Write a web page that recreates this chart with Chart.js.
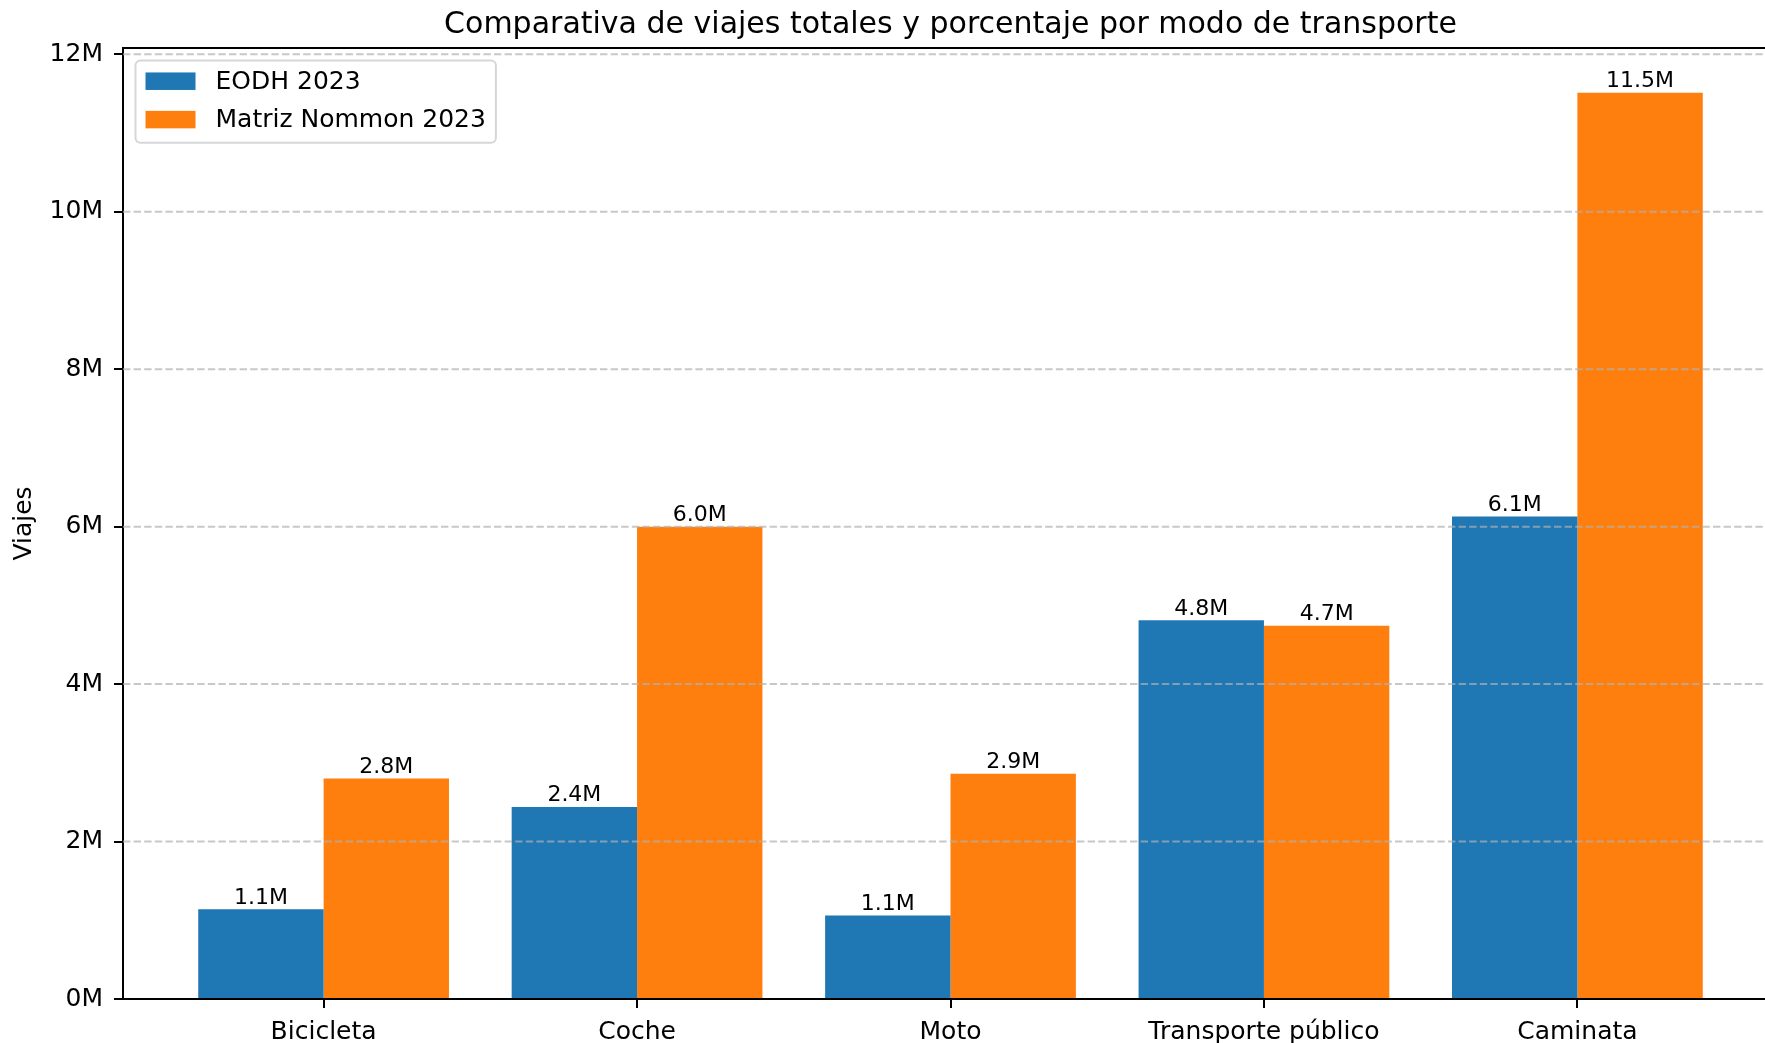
<!DOCTYPE html>
<html>
<head>
<meta charset="utf-8">
<script src="https://cdn.jsdelivr.net/npm/chart.js@4/dist/chart.umd.min.js"></script>
<style>
  html, body { margin: 0; padding: 0; overflow: hidden; background: #fff; }
  #wrap { width: 1901px; height: 1043px; }
</style>
</head>
<body>
<div id="wrap"><canvas id="c" width="1901" height="1043"></canvas></div>
<script>
// ---- Data ----
const categories = ['Bicicleta', 'Coche', 'Moto', 'Transporte público', 'Caminata'];
const eodh2023 = [1.14e6, 2.44e6, 1.06e6, 4.81e6, 6.13e6];
const nommon2023 = [2.80e6, 6.00e6, 2.86e6, 4.74e6, 11.51e6];
const seriesLabels = ['EODH 2023', 'Matriz Nommon 2023'];
const yTickValues = [0, 2e6, 4e6, 6e6, 8e6, 10e6, 12e6];
const yTickLabels = ['0M', '2M', '4M', '6M', '8M', '10M', '12M'];
const yMax = 12.08e6;
const xMin = -0.64;
const xMax = 4.64;
const titleText = 'Comparativa de viajes totales y porcentaje por modo de transporte';
const yTitle = 'Viajes';

const FONT = 'DejaVu Sans';
Chart.defaults.font.family = FONT;
Chart.defaults.color = '#000';

const fmtM = v => (v / 1e6).toFixed(1) + 'M';

const gridAndLabels = {
  id: 'gridAndLabels',
  afterDatasetsDraw(chart) {
    const ctx = chart.ctx, ca = chart.chartArea, ys = chart.scales.y;
    ctx.save();
    ctx.beginPath();
    ctx.rect(ca.left, ca.top, ca.right - ca.left, ca.bottom - ca.top);
    ctx.clip();
    ctx.strokeStyle = 'rgba(176,176,176,0.7)';
    ctx.lineWidth = 2;
    ctx.setLineDash([7.4, 3.2]);
    ys.ticks.forEach(t => {
      if (t.value === 0) return;
      const y = ys.getPixelForValue(t.value);
      ctx.beginPath();
      ctx.moveTo(ca.left, y);
      ctx.lineTo(ca.right, y);
      ctx.stroke();
    });
    ctx.restore();
    // value labels
    ctx.save();
    ctx.font = '22px "' + FONT + '"';
    ctx.fillStyle = '#000';
    ctx.textAlign = 'center';
    ctx.textBaseline = 'alphabetic';
    chart.data.datasets.forEach((ds, di) => {
      const meta = chart.getDatasetMeta(di);
      meta.data.forEach((bar, i) => {
        ctx.fillText(fmtM(ds.data[i].y), bar.x, bar.y - 5.5);
      });
    });
    ctx.restore();
  },
  afterDraw(chart) {
    const ctx = chart.ctx, ca = chart.chartArea;
    // top spine
    ctx.save();
    ctx.strokeStyle = '#000';
    ctx.lineWidth = 2;
    ctx.beginPath();
    ctx.moveTo(ca.left - 1, ca.top);
    ctx.lineTo(ca.right + 1, ca.top);
    ctx.stroke();
    ctx.restore();
    // legend
    ctx.save();
    ctx.font = '25px "' + FONT + '"';
    const fs = 25;
    let maxW = 0;
    chart.data.datasets.forEach(ds => { maxW = Math.max(maxW, ctx.measureText(ds.label).width); });
    const lx = ca.left + 12.5, ly = ca.top + 12.5;
    const pad = 0.4 * fs, handleW = 2 * fs, handleH = 0.7 * fs, gap = 0.8 * fs, rowH = 38.4;
    const w = pad + handleW + gap + maxW + pad;
    const h = 82.3;
    ctx.beginPath();
    ctx.roundRect(lx, ly, w, h, 5);
    ctx.fillStyle = 'rgba(255,255,255,0.8)';
    ctx.fill();
    ctx.strokeStyle = 'rgba(204,204,204,0.8)';
    ctx.lineWidth = 2;
    ctx.stroke();
    chart.data.datasets.forEach((ds, i) => {
      const cy = ly + 20.7 + i * rowH;
      ctx.fillStyle = ds.backgroundColor;
      ctx.fillRect(lx + pad, cy - handleH / 2, handleW, handleH);
      ctx.fillStyle = '#000';
      ctx.textAlign = 'left';
      ctx.textBaseline = 'alphabetic';
      ctx.fillText(ds.label, lx + pad + handleW + gap, ly + 28.3 + i * rowH);
    });
    ctx.restore();
  }
};

const toPoints = arr => arr.map((v, i) => ({ x: i, y: v }));

new Chart(document.getElementById('c'), {
  type: 'bar',
  data: {
    datasets: [
      { label: seriesLabels[0], data: toPoints(eodh2023), backgroundColor: '#1f77b4', borderWidth: 0, categoryPercentage: 0.8, barPercentage: 1.0 },
      { label: seriesLabels[1], data: toPoints(nommon2023), backgroundColor: '#ff7f0e', borderWidth: 0, categoryPercentage: 0.8, barPercentage: 1.0 }
    ]
  },
  options: {
    responsive: false,
    animation: false,
    devicePixelRatio: 1,
    layout: { padding: 0 },
    plugins: {
      legend: { display: false },
      tooltip: { enabled: false },
      title: {
        display: true,
        text: titleText,
        color: '#000',
        font: { size: 30, weight: 'normal', lineHeight: 1.2 },
        padding: { top: 7, bottom: 5 }
      }
    },
    scales: {
      x: {
        type: 'linear',
        min: xMin,
        max: xMax,
        offset: false,
        afterBuildTicks: s => { s.ticks = categories.map((c, i) => ({ value: i })); },
        ticks: {
          callback: v => categories[v] !== undefined ? categories[v] : '',
          font: { size: 25 }, color: '#000', padding: 9, maxRotation: 0, autoSkip: false
        },
        grid: { display: true, offset: false, drawOnChartArea: false, drawTicks: true, tickLength: 9, tickColor: '#000', tickWidth: 2, lineWidth: 2, color: '#000' },
        border: { display: true, color: '#000', width: 2 },
        afterFit: s => { s.height = 44; },
        z: 1
      },
      y: {
        type: 'linear',
        min: 0,
        max: yMax,
        afterBuildTicks: s => { s.ticks = yTickValues.map(v => ({ value: v })); },
        ticks: {
          autoSkip: false,
          callback: v => { const i = yTickValues.indexOf(v); return i >= 0 ? yTickLabels[i] : ''; },
          font: { size: 25 }, color: '#000', padding: 11
        },
        grid: { display: true, drawOnChartArea: false, drawTicks: true, tickLength: 9, tickColor: '#000', tickWidth: 2, lineWidth: 2, color: '#000' },
        border: { display: true, color: '#000', width: 2 },
        title: { display: true, text: yTitle, color: '#000', font: { size: 25, lineHeight: 1.2 }, padding: { top: 9, bottom: 0 } },
        afterFit: s => { s.width = 123; },
        z: 1
      },
      y2: {
        type: 'linear',
        position: 'right',
        display: true,
        grid: { display: false },
        ticks: { display: false },
        border: { display: true, color: '#000', width: 2 },
        afterFit: s => { s.width = 123; }
      }
    }
  },
  plugins: [gridAndLabels]
});
</script>
</body>
</html>
